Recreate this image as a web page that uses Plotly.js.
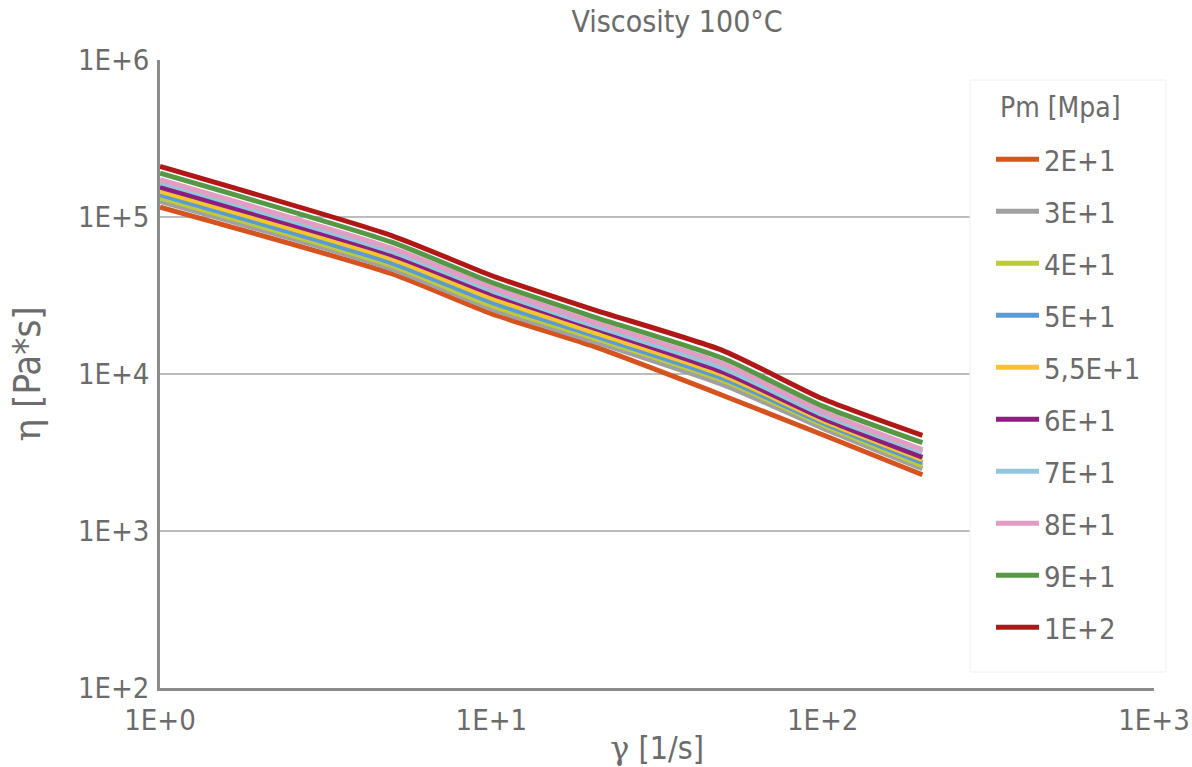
<!DOCTYPE html>
<html>
<head>
<meta charset="utf-8">
<script src="https://cdn.plot.ly/plotly-3.0.1.min.js"></script>
<style>html,body{margin:0;padding:0;background:#fff;}#chart{width:1192px;height:767px;}</style>
</head>
<body>
<div id="chart"></div>
<script>
// Shear rate [1/s]
const shearRate = [1, 5, 10, 20, 50, 100, 200];
// Series names (Pm [Mpa])
const seriesNames = ['2E+1', '3E+1', '4E+1', '5E+1', '5,5E+1', '6E+1', '7E+1', '8E+1', '9E+1', '1E+2'];
// Viscosity [Pa*s] per series
const eta_20  = [115500, 43500, 24200, 15200, 7300, 4100, 2280];
const eta_30  = [125500, 46800, 26000, 16300, 8540, 4520, 2490];
const eta_40  = [133000, 49100, 27300, 17200, 9090, 4750, 2610];
const eta_50  = [139000, 51100, 28700, 17800, 9400, 4890, 2720];
const eta_55  = [146000, 54200, 30400, 18700, 9880, 5060, 2850];
const eta_60  = [155000, 57400, 32400, 19900, 10300, 5230, 2950];
const eta_70  = [166000, 60300, 34000, 20600, 10900, 5500, 3180];
const eta_80  = [173000, 63300, 35700, 21600, 11600, 5770, 3300];
const eta_90  = [190000, 69100, 38400, 23400, 12600, 6240, 3650];
const eta_100 = [210000, 76200, 42400, 26000, 14100, 6950, 4060];
const seriesValues = [eta_20, eta_30, eta_40, eta_50, eta_55, eta_60, eta_70, eta_80, eta_90, eta_100];
const seriesColors = ['#D4531F', '#A0A0A0', '#BECB38', '#5B9BD5', '#F4C62A', '#8E1D80', '#92C7DB', '#E39DC3', '#579846', '#B01818'];
// Axis ticks
const xTickVals = [1, 10, 100, 1000];
const xTickText = ['1E+0', '1E+1', '1E+2', '1E+3'];
const yTickVals = [100, 1000, 10000, 100000, 1000000];
const yTickText = ['1E+2', '1E+3', '1E+4', '1E+5', '1E+6'];
const legendTitle = 'Pm [Mpa]';

const FONT = 'DejaVu Sans Condensed, DejaVu Sans, sans-serif';
const TXT = '#6b6b6b';

// plot area geometry helpers (pixels -> paper)
const W = 1192, H = 767, ML = 160, MR = 38, MT = 60, MB = 79;
const PW = W - ML - MR, PH = H - MT - MB;
const px = v => (v - ML) / PW;
const py = v => (H - MB - v) / PH;

const traces = seriesNames.map((name, i) => ({
  type: 'scatter',
  mode: 'lines',
  x: shearRate,
  y: seriesValues[i],
  name: name,
  legendgroup: 'g' + i,
  line: {color: seriesColors[i], width: 5, shape: 'spline', smoothing: 0.6},
  hoverinfo: 'x+y+name'
}));

const layout = {
  width: W,
  height: H,
  paper_bgcolor: '#ffffff',
  plot_bgcolor: '#ffffff',
  margin: {l: ML, r: MR, t: MT, b: MB, pad: 0},
  font: {family: FONT, color: TXT, size: 28},
  title: {
    text: 'Viscosity 100°C',
    font: {family: FONT, size: 30, color: TXT},
    x: 0.568, xref: 'container', xanchor: 'center',
    y: 0.972, yref: 'container', yanchor: 'middle'
  },
  xaxis: {
    type: 'log',
    range: [0, 3],
    tickvals: xTickVals,
    ticktext: xTickText,
    showgrid: false,
    zeroline: false,
    showline: true,
    linecolor: '#8c8c8c',
    linewidth: 2.5,
    ticks: '',
    ticklabelstandoff: 4,
    tickfont: {family: FONT, size: 29, color: TXT},
    title: {
      text: '<span style="font-family:DejaVu Serif">γ</span> [1/s]',
      font: {family: FONT, size: 32, color: TXT},
      standoff: 2
    }
  },
  yaxis: {
    type: 'log',
    range: [2, 6],
    tickvals: yTickVals,
    ticktext: yTickText,
    showgrid: true,
    gridcolor: '#bcbcbc',
    gridwidth: 1.5,
    zeroline: false,
    showline: true,
    linecolor: '#8c8c8c',
    linewidth: 2.5,
    ticks: '',
    ticklabelstandoff: 2,
    tickfont: {family: FONT, size: 29, color: TXT},
    title: {
      text: '<span style="font-family:DejaVu Serif">η</span> [Pa*s]',
      font: {family: FONT, size: 38, color: TXT},
      standoff: 26
    }
  },
  shapes: [{
    type: 'rect', xref: 'paper', yref: 'paper', layer: 'above',
    x0: px(970), x1: px(1166), y0: py(672), y1: py(80),
    fillcolor: '#ffffff', line: {color: '#f0f0f0', width: 1}
  }],
  annotations: [{
    text: legendTitle, xref: 'paper', yref: 'paper',
    x: px(998), y: py(107), xanchor: 'left', yanchor: 'middle',
    showarrow: false, font: {family: FONT, size: 28, color: TXT}
  }],
  showlegend: true,
  legend: {
    x: px(991), xanchor: 'left',
    y: py(134), yanchor: 'top',
    bgcolor: 'rgba(0,0,0,0)',
    borderwidth: 0,
    traceorder: 'grouped',
    tracegroupgap: 11.3,
    itemwidth: 43,
    font: {family: FONT, size: 29, color: TXT}
  }
};

Plotly.newPlot('chart', traces, layout, {displayModeBar: false});
</script>
</body>
</html>
